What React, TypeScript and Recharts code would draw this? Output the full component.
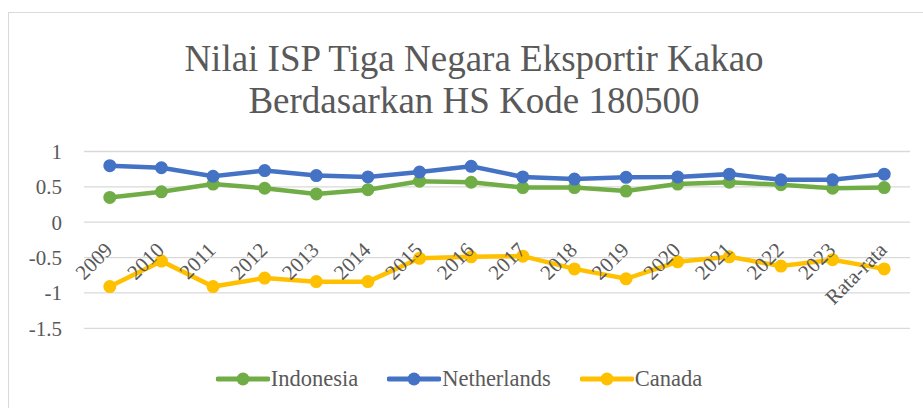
import React from 'react';
import { LineChart, Line, XAxis, YAxis, CartesianGrid, Legend } from 'recharts';

const years = ['2009', '2010', '2011', '2012', '2013', '2014', '2015', '2016', '2017', '2018', '2019', '2020', '2021', '2022', '2023', 'Rata-rata'];
const indonesia = [0.35, 0.43, 0.54, 0.48, 0.40, 0.46, 0.58, 0.565, 0.49, 0.49, 0.44, 0.54, 0.565, 0.53, 0.48, 0.49];
const netherlands = [0.80, 0.77, 0.65, 0.73, 0.66, 0.64, 0.71, 0.79, 0.64, 0.61, 0.635, 0.64, 0.68, 0.60, 0.60, 0.68];
const canada = [-0.91, -0.55, -0.91, -0.79, -0.84, -0.84, -0.51, -0.49, -0.48, -0.66, -0.80, -0.56, -0.49, -0.62, -0.53, -0.66];
const yTicks = [1, 0.5, 0, -0.5, -1, -1.5];

const series = [
  { key: 'indonesia', name: 'Indonesia', color: '#70AD47' },
  { key: 'netherlands', name: 'Netherlands', color: '#4472C4' },
  { key: 'canada', name: 'Canada', color: '#FFC000' },
];

const data = years.map((year, i) => ({
  year,
  indonesia: indonesia[i],
  netherlands: netherlands[i],
  canada: canada[i],
}));

const W = 923;
const H = 408;
const FONT = '"Liberation Serif", "Times New Roman", serif';
const TEXT = '#595959';
const PLOT_TOP = 151.5;
const PLOT_BOTTOM = 328.3;
const Y_MAX = 1;
const Y_MIN = -1.5;
const ZERO_Y = PLOT_TOP + ((Y_MAX - 0) / (Y_MAX - Y_MIN)) * (PLOT_BOTTOM - PLOT_TOP);

function YearTick({ x, payload }: any) {
  const tx = x + 4;
  const ty = ZERO_Y + 29;
  return (
    <text
      x={tx}
      y={ty}
      transform={`rotate(-45, ${tx}, ${ty})`}
      textAnchor="end"
      fill={TEXT}
      fontSize={21}
      fontFamily={FONT}
    >
      {payload.value}
    </text>
  );
}

function LegendContent() {
  return (
    <div style={{ display: 'flex', justifyContent: 'center', alignItems: 'center', fontFamily: FONT, fontSize: 22.5, color: TEXT }}>
      {series.map((s) => (
        <div key={s.key} style={{ display: 'flex', alignItems: 'center', marginRight: 29 }}>
          <svg width={54} height={16} style={{ marginRight: 1 }}>
            <line x1={2} y1={8} x2={52} y2={8} stroke={s.color} strokeWidth={5} strokeLinecap="round" />
            <circle cx={27} cy={8} r={6.5} fill={s.color} />
          </svg>
          <span>{s.name}</span>
        </div>
      ))}
    </div>
  );
}

export default function App() {
  return (
    <div style={{ position: 'absolute', left: 0, top: 0, width: W, height: H, overflow: 'hidden', background: '#fff' }}>
      <div style={{ position: 'absolute', left: 8, top: 12, width: W, height: H, border: '1px solid #D9D9D9', boxSizing: 'border-box' }} />
      <div
        style={{
          position: 'absolute',
          left: 0,
          top: 38,
          width: 948,
          textAlign: 'center',
          fontFamily: FONT,
          fontSize: 37,
          lineHeight: '42px',
          color: TEXT,
        }}
      >
        Nilai ISP Tiga Negara Eksportir Kakao
        <br />
        Berdasarkan HS Kode 180500
      </div>
      <LineChart
        width={W}
        height={H}
        data={data}
        margin={{ top: PLOT_TOP, right: 13, bottom: H - PLOT_BOTTOM - 1, left: 24 }}
        style={{ position: 'absolute', left: 0, top: 0 }}
      >
        <CartesianGrid vertical={false} stroke="#D9D9D9" strokeWidth={1.3} />
        <XAxis
          dataKey="year"
          height={1}
          axisLine={false}
          tickLine={false}
          interval={0}
          padding={{ left: 25.8, right: 25.8 }}
          tick={<YearTick />}
        />
        <YAxis
          width={60}
          domain={[Y_MIN, Y_MAX]}
          ticks={yTicks}
          axisLine={false}
          tickLine={false}
          tickSize={0}
          tickMargin={22}
          tick={{ fill: TEXT, fontSize: 21, fontFamily: FONT }}
          interval={0}
        />
        {series.map((s) => (
          <Line
            key={s.key}
            dataKey={s.key}
            name={s.name}
            stroke={s.color}
            strokeWidth={4.5}
            dot={{ r: 5, fill: s.color, stroke: s.color, strokeWidth: 3 }}
            activeDot={false}
            isAnimationActive={false}
          />
        ))}
        <Legend
          verticalAlign="middle"
          align="center"
          layout="horizontal"
          content={<LegendContent />}
          wrapperStyle={{ top: 366, left: 12, width: W }}
        />
      </LineChart>
    </div>
  );
}
